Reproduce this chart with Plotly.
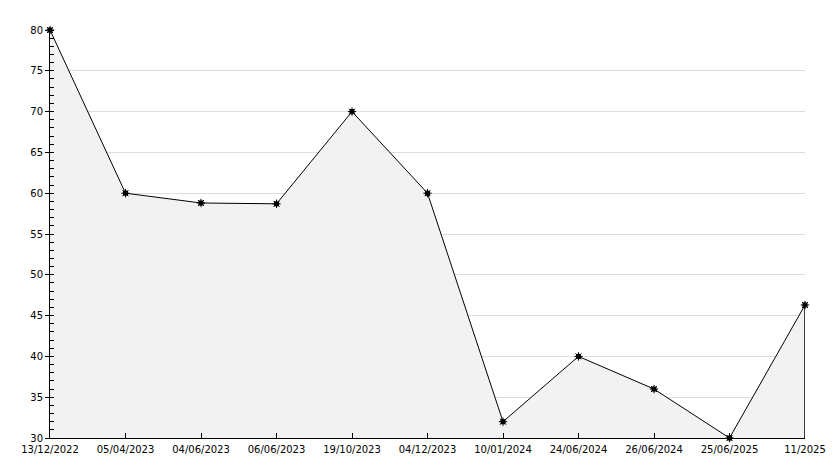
import plotly.graph_objects as go

dates = ["13/12/2022", "05/04/2023", "04/06/2023", "06/06/2023", "19/10/2023",
         "04/12/2023", "10/01/2024", "24/06/2024", "26/06/2024", "25/06/2025", "11/2025"]
values = [80, 60, 58.8, 58.7, 70, 60, 32, 40, 36, 30, 46.3]
y_ticks = [30, 35, 40, 45, 50, 55, 60, 65, 70, 75, 80]

fig = go.Figure()
fig.add_trace(go.Scatter(
    x=dates, y=values, mode="lines", fill="tozeroy",
    fillcolor="#f2f2f2", line=dict(color="black", width=1),
    hoverinfo="skip", showlegend=False))
# right-hand closing edge of the filled area
fig.add_trace(go.Scatter(
    x=[dates[-1], dates[-1]], y=[y_ticks[0], values[-1]], mode="lines",
    cliponaxis=False,
    line=dict(color="black", width=1.5), hoverinfo="skip", showlegend=False))
fig.add_trace(go.Scatter(
    x=dates, y=values, mode="markers", cliponaxis=False,
    marker=dict(symbol="square", size=5, color="black",
                line=dict(color="black", width=0)),
    hoverinfo="x+y", showlegend=False))
fig.add_trace(go.Scatter(
    x=dates, y=values, mode="markers", cliponaxis=False,
    marker=dict(symbol="asterisk", size=7, color="black",
                line=dict(color="black", width=1)),
    hoverinfo="skip", showlegend=False))

# page body has an 8px default margin, so shrink the figure to compensate
fig.update_layout(
    width=826, height=460,
    margin=dict(l=42, r=29, t=22, b=30),
    paper_bgcolor="white", plot_bgcolor="white",
    font=dict(family="DejaVu Sans", size=10, color="black"),
)
fig.update_xaxes(
    type="category", range=[0, len(dates) - 1], showgrid=False, automargin=False,
    showline=True, linecolor="black", linewidth=1,
    ticks="inside", ticklen=5, tickcolor="black", tickangle=0,
    ticklabelstandoff=2,
    zeroline=False)
fig.update_yaxes(
    range=[y_ticks[0], y_ticks[-1]], tickvals=y_ticks, automargin=False,
    showgrid=True, gridcolor="#dddddd", gridwidth=1,
    showline=True, linecolor="black", linewidth=1,
    ticks="outside", ticklen=4, tickcolor="black",
    minor=dict(dtick=1, ticks="inside", ticklen=4, tickcolor="black", showgrid=False),
    zeroline=False)

fig.write_html("out.html")
